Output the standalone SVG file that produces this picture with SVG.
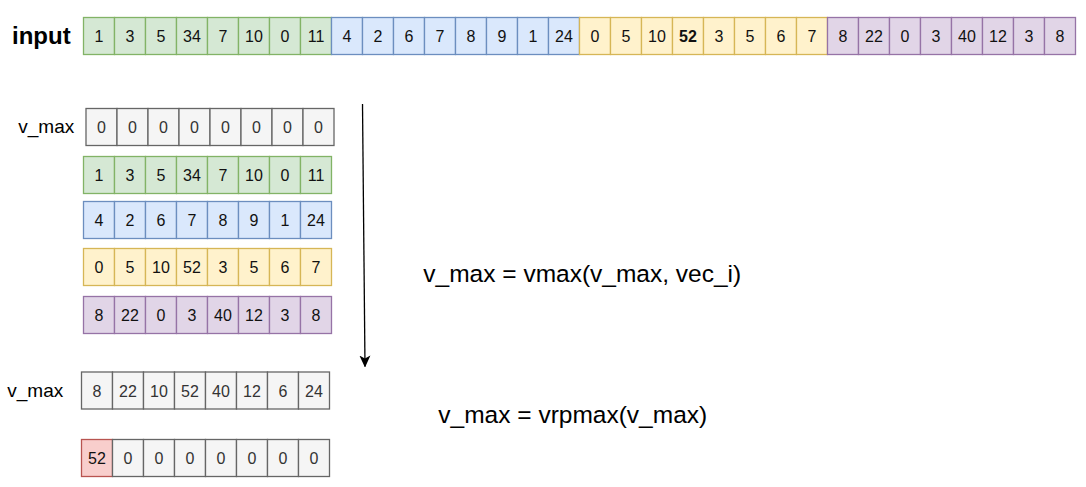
<svg xmlns="http://www.w3.org/2000/svg" width="1086" height="487" viewBox="0 0 1086 487">
<style>
rect.c{stroke-width:1.3}
.g{fill:#d5e8d4;stroke:#82b366}
.b{fill:#dae8fc;stroke:#6c8ebf}
.y{fill:#fff2cc;stroke:#d6b656}
.p{fill:#e1d5e7;stroke:#9673a6}
.n{fill:#f5f5f5;stroke:#666666}
.r{fill:#f8cecc;stroke:#b85450}
text{font-family:"Liberation Sans",Arial,sans-serif}
text.t{font-size:16px;text-anchor:middle;fill:#111}
text.tg{font-size:16px;text-anchor:middle;fill:#333}
text.lbl{font-size:19px;fill:#000}
text.f{font-size:24.5px;fill:#000}
</style>
<defs>
<marker id="ah" viewBox="0 0 12 12" refX="11" refY="6" markerWidth="12" markerHeight="12" markerUnits="userSpaceOnUse" orient="auto">
<path d="M0,0.5 L12,6 L0,11.5 L3,6 Z" fill="#000"/>
</marker>
</defs>
<rect width="1086" height="487" fill="#fff"/>

<text x="12" y="44" style="font-size:24px;font-weight:bold">input</text>

<g id="input-row" transform="translate(83.5,17.5)">
<rect class="c g" x="0" y="0" width="31" height="37"/><rect class="c g" x="31" y="0" width="31" height="37"/><rect class="c g" x="62" y="0" width="31" height="37"/><rect class="c g" x="93" y="0" width="31" height="37"/><rect class="c g" x="124" y="0" width="31" height="37"/><rect class="c g" x="155" y="0" width="31" height="37"/><rect class="c g" x="186" y="0" width="31" height="37"/><rect class="c g" x="217" y="0" width="31" height="37"/>
<rect class="c b" x="248" y="0" width="31" height="37"/><rect class="c b" x="279" y="0" width="31" height="37"/><rect class="c b" x="310" y="0" width="31" height="37"/><rect class="c b" x="341" y="0" width="31" height="37"/><rect class="c b" x="372" y="0" width="31" height="37"/><rect class="c b" x="403" y="0" width="31" height="37"/><rect class="c b" x="434" y="0" width="31" height="37"/><rect class="c b" x="465" y="0" width="31" height="37"/>
<rect class="c y" x="496" y="0" width="31" height="37"/><rect class="c y" x="527" y="0" width="31" height="37"/><rect class="c y" x="558" y="0" width="31" height="37"/><rect class="c y" x="589" y="0" width="31" height="37"/><rect class="c y" x="620" y="0" width="31" height="37"/><rect class="c y" x="651" y="0" width="31" height="37"/><rect class="c y" x="682" y="0" width="31" height="37"/><rect class="c y" x="713" y="0" width="31" height="37"/>
<rect class="c p" x="744" y="0" width="31" height="37"/><rect class="c p" x="775" y="0" width="31" height="37"/><rect class="c p" x="806" y="0" width="31" height="37"/><rect class="c p" x="837" y="0" width="31" height="37"/><rect class="c p" x="868" y="0" width="31" height="37"/><rect class="c p" x="899" y="0" width="31" height="37"/><rect class="c p" x="930" y="0" width="31" height="37"/><rect class="c p" x="961" y="0" width="31" height="37"/>
<text class="t" x="15.5" y="24.5">1</text><text class="t" x="46.5" y="24.5">3</text><text class="t" x="77.5" y="24.5">5</text><text class="t" x="108.5" y="24.5">34</text><text class="t" x="139.5" y="24.5">7</text><text class="t" x="170.5" y="24.5">10</text><text class="t" x="201.5" y="24.5">0</text><text class="t" x="232.5" y="24.5">11</text>
<text class="t" x="263.5" y="24.5">4</text><text class="t" x="294.5" y="24.5">2</text><text class="t" x="325.5" y="24.5">6</text><text class="t" x="356.5" y="24.5">7</text><text class="t" x="387.5" y="24.5">8</text><text class="t" x="418.5" y="24.5">9</text><text class="t" x="449.5" y="24.5">1</text><text class="t" x="480.5" y="24.5">24</text>
<text class="t" x="511.5" y="24.5">0</text><text class="t" x="542.5" y="24.5">5</text><text class="t" x="573.5" y="24.5">10</text><text class="t" x="604.5" y="24.5" style="font-weight:bold">52</text><text class="t" x="635.5" y="24.5">3</text><text class="t" x="666.5" y="24.5">5</text><text class="t" x="697.5" y="24.5">6</text><text class="t" x="728.5" y="24.5">7</text>
<text class="t" x="759.5" y="24.5">8</text><text class="t" x="790.5" y="24.5">22</text><text class="t" x="821.5" y="24.5">0</text><text class="t" x="852.5" y="24.5">3</text><text class="t" x="883.5" y="24.5">40</text><text class="t" x="914.5" y="24.5">12</text><text class="t" x="945.5" y="24.5">3</text><text class="t" x="976.5" y="24.5">8</text>
</g>

<text class="lbl" x="18.3" y="133">v_max</text>
<g id="vmax-init" transform="translate(86,108.5)">
<rect class="c n" x="0" y="0" width="31" height="37"/><rect class="c n" x="31" y="0" width="31" height="37"/><rect class="c n" x="62" y="0" width="31" height="37"/><rect class="c n" x="93" y="0" width="31" height="37"/><rect class="c n" x="124" y="0" width="31" height="37"/><rect class="c n" x="155" y="0" width="31" height="37"/><rect class="c n" x="186" y="0" width="31" height="37"/><rect class="c n" x="217" y="0" width="31" height="37"/>
<text class="tg" x="15.5" y="24.5">0</text><text class="tg" x="46.5" y="24.5">0</text><text class="tg" x="77.5" y="24.5">0</text><text class="tg" x="108.5" y="24.5">0</text><text class="tg" x="139.5" y="24.5">0</text><text class="tg" x="170.5" y="24.5">0</text><text class="tg" x="201.5" y="24.5">0</text><text class="tg" x="232.5" y="24.5">0</text>
</g>

<g id="vec-green" transform="translate(83.5,156.5)">
<rect class="c g" x="0" y="0" width="31" height="37"/><rect class="c g" x="31" y="0" width="31" height="37"/><rect class="c g" x="62" y="0" width="31" height="37"/><rect class="c g" x="93" y="0" width="31" height="37"/><rect class="c g" x="124" y="0" width="31" height="37"/><rect class="c g" x="155" y="0" width="31" height="37"/><rect class="c g" x="186" y="0" width="31" height="37"/><rect class="c g" x="217" y="0" width="31" height="37"/>
<text class="t" x="15.5" y="24.5">1</text><text class="t" x="46.5" y="24.5">3</text><text class="t" x="77.5" y="24.5">5</text><text class="t" x="108.5" y="24.5">34</text><text class="t" x="139.5" y="24.5">7</text><text class="t" x="170.5" y="24.5">10</text><text class="t" x="201.5" y="24.5">0</text><text class="t" x="232.5" y="24.5">11</text>
</g>

<g id="vec-blue" transform="translate(83.5,201.5)">
<rect class="c b" x="0" y="0" width="31" height="37"/><rect class="c b" x="31" y="0" width="31" height="37"/><rect class="c b" x="62" y="0" width="31" height="37"/><rect class="c b" x="93" y="0" width="31" height="37"/><rect class="c b" x="124" y="0" width="31" height="37"/><rect class="c b" x="155" y="0" width="31" height="37"/><rect class="c b" x="186" y="0" width="31" height="37"/><rect class="c b" x="217" y="0" width="31" height="37"/>
<text class="t" x="15.5" y="24.5">4</text><text class="t" x="46.5" y="24.5">2</text><text class="t" x="77.5" y="24.5">6</text><text class="t" x="108.5" y="24.5">7</text><text class="t" x="139.5" y="24.5">8</text><text class="t" x="170.5" y="24.5">9</text><text class="t" x="201.5" y="24.5">1</text><text class="t" x="232.5" y="24.5">24</text>
</g>

<g id="vec-yellow" transform="translate(83.5,248.5)">
<rect class="c y" x="0" y="0" width="31" height="37"/><rect class="c y" x="31" y="0" width="31" height="37"/><rect class="c y" x="62" y="0" width="31" height="37"/><rect class="c y" x="93" y="0" width="31" height="37"/><rect class="c y" x="124" y="0" width="31" height="37"/><rect class="c y" x="155" y="0" width="31" height="37"/><rect class="c y" x="186" y="0" width="31" height="37"/><rect class="c y" x="217" y="0" width="31" height="37"/>
<text class="t" x="15.5" y="24.5">0</text><text class="t" x="46.5" y="24.5">5</text><text class="t" x="77.5" y="24.5">10</text><text class="t" x="108.5" y="24.5">52</text><text class="t" x="139.5" y="24.5">3</text><text class="t" x="170.5" y="24.5">5</text><text class="t" x="201.5" y="24.5">6</text><text class="t" x="232.5" y="24.5">7</text>
</g>

<g id="vec-purple" transform="translate(83.5,296.5)">
<rect class="c p" x="0" y="0" width="31" height="37"/><rect class="c p" x="31" y="0" width="31" height="37"/><rect class="c p" x="62" y="0" width="31" height="37"/><rect class="c p" x="93" y="0" width="31" height="37"/><rect class="c p" x="124" y="0" width="31" height="37"/><rect class="c p" x="155" y="0" width="31" height="37"/><rect class="c p" x="186" y="0" width="31" height="37"/><rect class="c p" x="217" y="0" width="31" height="37"/>
<text class="t" x="15.5" y="24.5">8</text><text class="t" x="46.5" y="24.5">22</text><text class="t" x="77.5" y="24.5">0</text><text class="t" x="108.5" y="24.5">3</text><text class="t" x="139.5" y="24.5">40</text><text class="t" x="170.5" y="24.5">12</text><text class="t" x="201.5" y="24.5">3</text><text class="t" x="232.5" y="24.5">8</text>
</g>

<text class="lbl" x="7.3" y="396.5">v_max</text>
<g id="vmax-result" transform="translate(81.5,372)">
<rect class="c n" x="0" y="0" width="31" height="37"/><rect class="c n" x="31" y="0" width="31" height="37"/><rect class="c n" x="62" y="0" width="31" height="37"/><rect class="c n" x="93" y="0" width="31" height="37"/><rect class="c n" x="124" y="0" width="31" height="37"/><rect class="c n" x="155" y="0" width="31" height="37"/><rect class="c n" x="186" y="0" width="31" height="37"/><rect class="c n" x="217" y="0" width="31" height="37"/>
<text class="tg" x="15.5" y="24.5">8</text><text class="tg" x="46.5" y="24.5">22</text><text class="tg" x="77.5" y="24.5">10</text><text class="tg" x="108.5" y="24.5">52</text><text class="tg" x="139.5" y="24.5">40</text><text class="tg" x="170.5" y="24.5">12</text><text class="tg" x="201.5" y="24.5">6</text><text class="tg" x="232.5" y="24.5">24</text>
</g>

<g id="vrpmax-result" transform="translate(81.5,439.5)">
<rect class="c r" x="0" y="0" width="31" height="37"/><rect class="c n" x="31" y="0" width="31" height="37"/><rect class="c n" x="62" y="0" width="31" height="37"/><rect class="c n" x="93" y="0" width="31" height="37"/><rect class="c n" x="124" y="0" width="31" height="37"/><rect class="c n" x="155" y="0" width="31" height="37"/><rect class="c n" x="186" y="0" width="31" height="37"/><rect class="c n" x="217" y="0" width="31" height="37"/>
<text class="t" x="15.5" y="24.5">52</text><text class="tg" x="46.5" y="24.5">0</text><text class="tg" x="77.5" y="24.5">0</text><text class="tg" x="108.5" y="24.5">0</text><text class="tg" x="139.5" y="24.5">0</text><text class="tg" x="170.5" y="24.5">0</text><text class="tg" x="201.5" y="24.5">0</text><text class="tg" x="232.5" y="24.5">0</text>
</g>

<g id="formula-vmax"><text class="f" x="423.3" y="282">v_max = vmax(v_max, vec_i)</text></g>
<g id="formula-vrpmax"><text class="f" x="438.3" y="423">v_max = vrpmax(v_max)</text></g>

<g id="connectors">
<line x1="362.5" y1="104" x2="365" y2="366.5" stroke="#000" stroke-width="1.3" marker-end="url(#ah)"/>
</g>
</svg>
